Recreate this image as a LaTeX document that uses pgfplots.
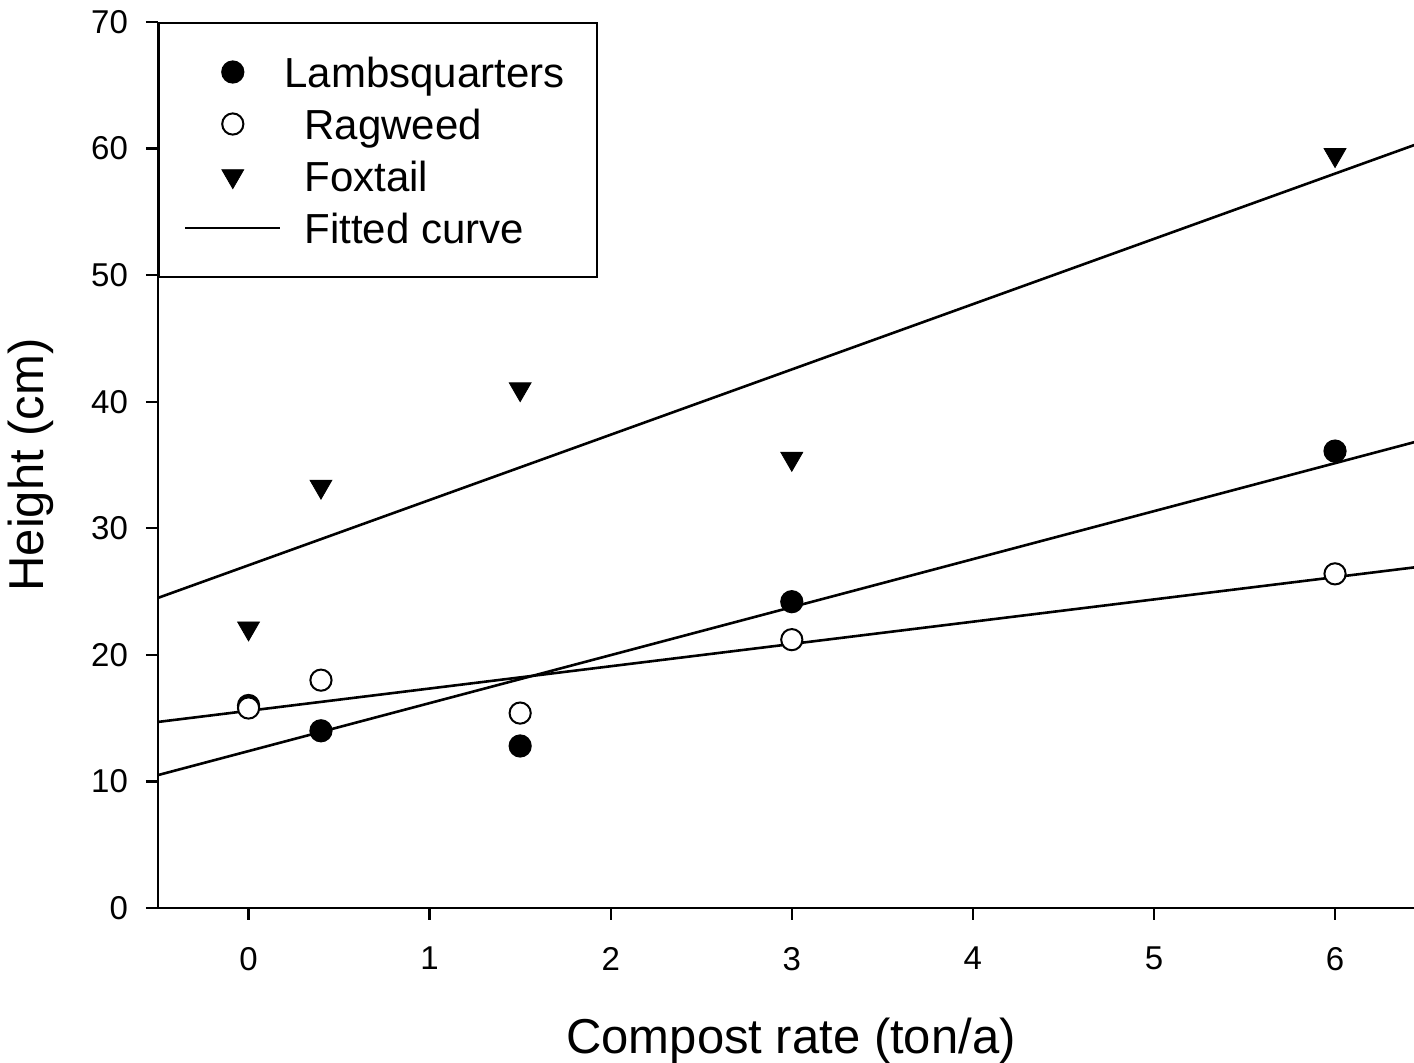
\documentclass[border=0pt]{standalone}
\usepackage{pgfplots}
\pgfplotsset{compat=1.18}
\usepackage{fontspec}
\setmainfont{Liberation Sans}
\begin{document}
\begin{tikzpicture}
\path[use as bounding box] (-79pt,-77.5pt) rectangle (628pt,454pt);
\begin{axis}[
  at={(0pt,0pt)}, anchor=south west,
  scale only axis, width=628pt, height=443pt,
  xmin=-0.5, xmax=6.436, ymin=0, ymax=70,
  axis lines=left,
  axis line style={-, line width=1.3pt, black},
  tick align=outside,
  major tick length=6pt,
  tick style={line width=1.2pt, black},
  xtick={0,1,2,3,4,5,6},
  ytick={0,10,20,30,40,50,60,70},
  minor tick num=0,
  /pgf/number format/assume math mode=true,
  ticklabel style={font=\fontsize{16.5}{19}\selectfont},
  xticklabel style={yshift=-10pt},
  yticklabel style={xshift=-5.5pt},
  every axis x label/.style={at={(axis description cs:0.504,0)}, anchor=base, yshift=-73pt, font=\fontsize{24.5}{28}\selectfont},
  every axis y label/.style={at={(axis description cs:-0.0908,0.5)}, rotate=90, anchor=base, font=\fontsize{24.5}{28}\selectfont},
  xlabel={Compost rate (ton/a)},
  ylabel={Height (cm)},
  legend image code/.code={\draw[mark repeat=2,mark phase=2,#1] plot coordinates {(0pt,0pt) (23.75pt,0pt) (47.5pt,0pt)};},
  legend cell align=left,
  legend style={at={(rel axis cs:0,1)}, anchor=north west, draw=black, line width=1pt, fill=white,
    inner xsep=12.5pt, inner ysep=11.5pt, row sep=0pt, column sep=11.5pt,
    font=\fontsize{21}{25}\selectfont,
    nodes={inner sep=0pt, text height=20.5pt, text depth=5.5pt}},
]
% fitted lines
\addplot[black, line width=1.3pt, forget plot] coordinates {(-0.5,10.5) (6.5,37.04)};
\addplot[black, line width=1.3pt, forget plot] coordinates {(-0.5,14.7) (6.5,27.02)};
\addplot[black, line width=1.3pt, forget plot] coordinates {(-0.5,24.5) (6.5,60.6)};
% Lambsquarters
\addplot[only marks, mark=*, mark size=5.3pt, mark options={fill=black, draw=black, line width=1pt}]
  coordinates {(0,16.0) (0.4,14.0) (1.5,12.8) (3,24.2) (6,36.1)};
% Ragweed
\addplot[only marks, mark=*, mark size=5.3pt, mark options={fill=white, draw=black, line width=1pt}]
  coordinates {(0,15.8) (0.4,18.0) (1.5,15.4) (3,21.2) (6,26.4)};
% Foxtail
\addplot[only marks, mark=triangle*, mark size=6.3pt, mark options={fill=black, draw=black, line width=0.4pt, rotate=180}]
  coordinates {(0,22.1) (0.4,33.3) (1.5,41.0) (3,35.5) (6,59.5)};
\addlegendimage{black, line width=1.3pt}
\legend{\makebox[133.5pt][l]{\hspace*{-10pt}Lambsquarters}, \makebox[133.5pt][l]{Ragweed}, \makebox[133.5pt][l]{Foxtail}, \makebox[133.5pt][l]{Fitted curve}}
\end{axis}
\end{tikzpicture}
\end{document}
